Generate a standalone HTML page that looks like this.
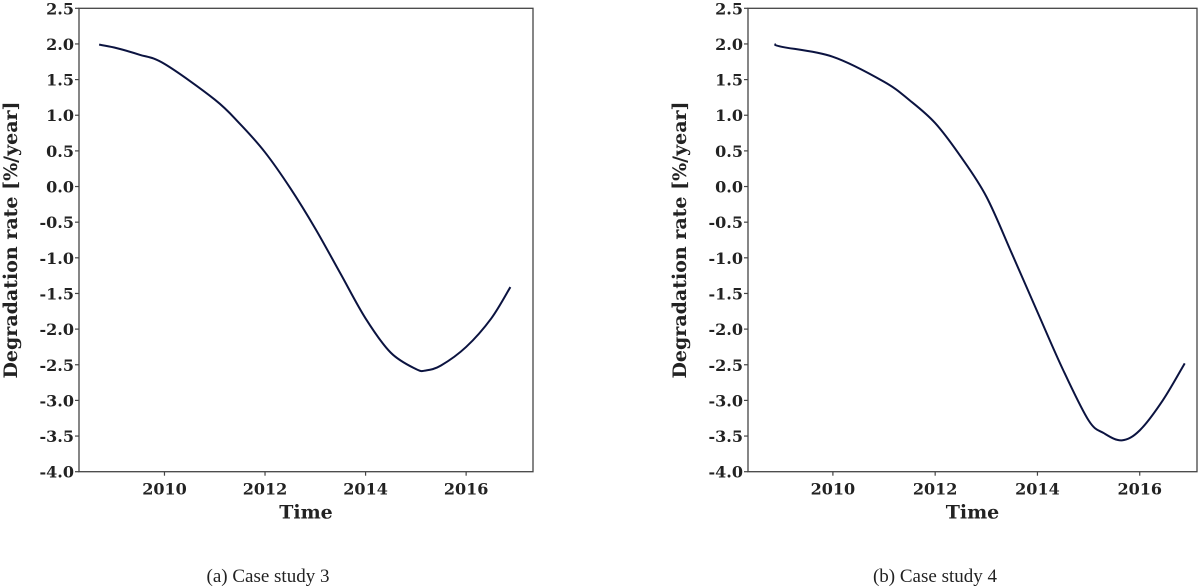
<!DOCTYPE html>
<html><head><meta charset="utf-8"><style>
body{margin:0;background:#fff;width:1200px;height:588px;overflow:hidden}
svg{display:block}
.tk{font-family:"DejaVu Serif","Liberation Serif",serif;font-weight:bold;font-size:16px;fill:#222}
.ax{font-family:"DejaVu Serif","Liberation Serif",serif;font-weight:bold;font-size:19px;fill:#222}
.cap{font-family:"Liberation Serif","DejaVu Serif",serif;font-size:19px;fill:#222}
</style></head><body>
<svg id="fig" width="1200" height="588"></svg>
<script>
const yTicks=[2.5,2.0,1.5,1.0,0.5,0.0,-0.5,-1.0,-1.5,-2.0,-2.5,-3.0,-3.5,-4.0];
const xTicks=[2010,2012,2014,2016];
const yearsA=[2008.7,2009,2009.5,2010,2011,2011.5,2012,2012.5,2013,2013.5,2014,2014.5,2015,2015.2,2015.5,2016,2016.5,2016.88];
const valuesA=[1.99,1.95,1.85,1.72,1.22,0.88,0.48,-0.02,-0.59,-1.22,-1.85,-2.33,-2.56,-2.58,-2.51,-2.25,-1.85,-1.41];
const yearsB=[2008.86,2009,2010,2011,2011.5,2012,2012.5,2013,2013.5,2014,2014.5,2015,2015.3,2015.65,2016,2016.45,2016.88];
const valuesB=[2.0,1.96,1.82,1.47,1.21,0.89,0.42,-0.14,-0.94,-1.76,-2.57,-3.28,-3.46,-3.56,-3.42,-3.0,-2.48];
const NS='http://www.w3.org/2000/svg';
const svg=document.getElementById('fig');
function mk(tag,attrs,parent){const e=document.createElementNS(NS,tag);for(const k in attrs)e.setAttribute(k,attrs[k]);(parent||svg).appendChild(e);return e;}
function panel(id,L,R,T,B,x0,x1,years,vals,cap,capX){
  const g=mk('g',{});
  
  
  const sx=v=>L+(v-x0)/(x1-x0)*(R-L);
  const sy=v=>T+(2.5-v)/6.5*(B-T);
  const box=mk('rect',{x:L,y:T,width:R-L,height:B-T,fill:'none',stroke:'#444','stroke-width':1.3},g);
  
  
  yTicks.forEach(t=>{
    const y=sy(t);
    mk('line',{x1:L-4,x2:L,y1:y,y2:y,stroke:'#444','stroke-width':1.2},g);
    const tx=mk('text',{x:L-5,y:y+6,'text-anchor':'end',class:'tk'},g);
    tx.textContent=t.toFixed(1);
    
    
  });
  xTicks.forEach(t=>{
    const x=sx(t);
    mk('line',{x1:x,x2:x,y1:B,y2:B+4,stroke:'#444','stroke-width':1.2},g);
    const tx=mk('text',{x:x,y:B+23,'text-anchor':'middle',class:'tk'},g);
    tx.textContent=t;
    
    
  });
  const xt=mk('text',{x:(L+R)/2,y:B+47,'text-anchor':'middle',class:'ax'},g);
  xt.textContent='Time';
  
  
  const yt=mk('text',{x:0,y:0,'text-anchor':'middle',class:'ax',transform:`translate(${L-62},${(T+B)/2}) rotate(-90)`},g);
  yt.textContent='Degradation rate [%/year]';
  
  
  const P=years.map((y,i)=>[sx(y),sy(vals[i])]);
  let d='M'+P[0][0]+','+P[0][1];
  for(let i=0;i<P.length-1;i++){
    const p0=P[i-1]||P[i],p1=P[i],p2=P[i+1],p3=P[i+2]||P[i+1];
    const c1=[p1[0]+(p2[0]-p0[0])/6,p1[1]+(p2[1]-p0[1])/6];
    const c2=[p2[0]-(p3[0]-p1[0])/6,p2[1]-(p3[1]-p1[1])/6];
    d+=`C${c1[0]},${c1[1]} ${c2[0]},${c2[1]} ${p2[0]},${p2[1]}`;
  }
  const ln=mk('path',{d:d,fill:'none',stroke:'#0b1340','stroke-width':2},g);
  
  
  const c=mk('text',{x:capX,y:582,'text-anchor':'middle',class:'cap'},g);
  c.textContent=cap;
  
  
}
panel('case-study-3',79,533,8.3,471.7,2008.3,2017.33,yearsA,valuesA,'(a) Case study 3',268);
panel('case-study-4',748,1197,8.3,471.7,2008.34,2017.12,yearsB,valuesB,'(b) Case study 4',935);
</script>
</body></html>
